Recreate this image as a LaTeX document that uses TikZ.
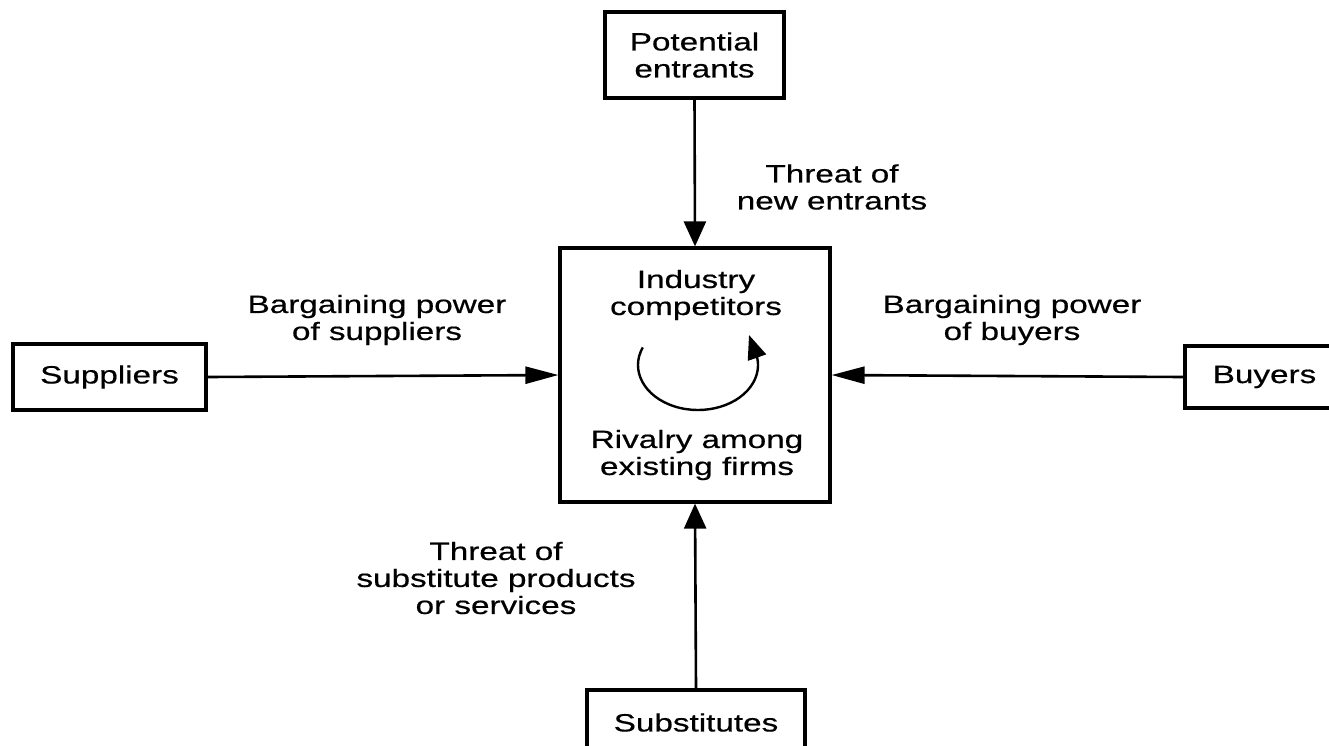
\documentclass[tikz,border=0pt]{standalone}
\usepackage{fontspec}
\setmainfont{Liberation Sans}[FakeStretch=1.33,FakeBold=0.5]
\usetikzlibrary{arrows.meta}
\newcommand{\labfont}{\fontsize{25}{27}\selectfont}
\begin{document}
\begin{tikzpicture}[x=1pt,y=-1pt,
  box/.style={draw, line width=3.2pt, inner sep=0pt, align=center, font=\labfont},
  lab/.style={inner sep=0pt, align=center, font=\labfont},
  conn/.style={line width=2.6pt},
  vtip/.style={-{Triangle[length=25pt,width=22pt]}},
  htip/.style={-{Triangle[length=33pt,width=17pt]}},
  cyc/.style={line width=2.4pt, -{Triangle[length=24pt,width=19pt]}}]
\clip (0,0) rectangle (1329,745);
\fill[white] (0,0) rectangle (1329,745);
% boxes
\node[box, minimum width=179pt, minimum height=86pt] (pe) at (694.5,55) {Potential\\entrants};
\node[box, minimum width=270pt, minimum height=254pt] (ic) at (695,375) {};
\node[box, minimum width=193pt, minimum height=66pt] (sup) at (109.5,377) {Suppliers};
\node[box, minimum width=159pt, minimum height=62pt] (buy) at (1264.5,377) {Buyers};
\node[box, minimum width=218pt, minimum height=65pt] (sub) at (696,722.5) {Substitutes};
% texts inside the centre box
\node[lab] (ict) at (696,295) {Industry\\competitors};
\node[lab] (rv) at (697,455) {Rivalry among\\existing firms};
\coordinate (cc) at (698,365);
\coordinate (cyctip) at (749,335);
\draw[cyc] (cc) ++(203:60 and 45) arc[start angle=203, end angle=-8, x radius=60, y radius=45] -- (cyctip);
% connectors
\draw[conn, vtip] (pe.south) -- (ic.north);
\draw[conn, vtip] (sub.north) -- (ic.south);
\draw[conn, htip] (sup.east) -- (ic.west);
\draw[conn, htip] (buy.west) -- (ic.east);
% labels
\node[lab] (tne) at (832,187) {Threat of\\new entrants};
\node[lab] (bps) at (377,320) {Bargaining power\\of suppliers};
\node[lab] (bpb) at (1012,320) {Bargaining power\\of buyers};
\node[lab] (tsp) at (496,578) {Threat of\\substitute products\\or services};
\end{tikzpicture}
\end{document}
